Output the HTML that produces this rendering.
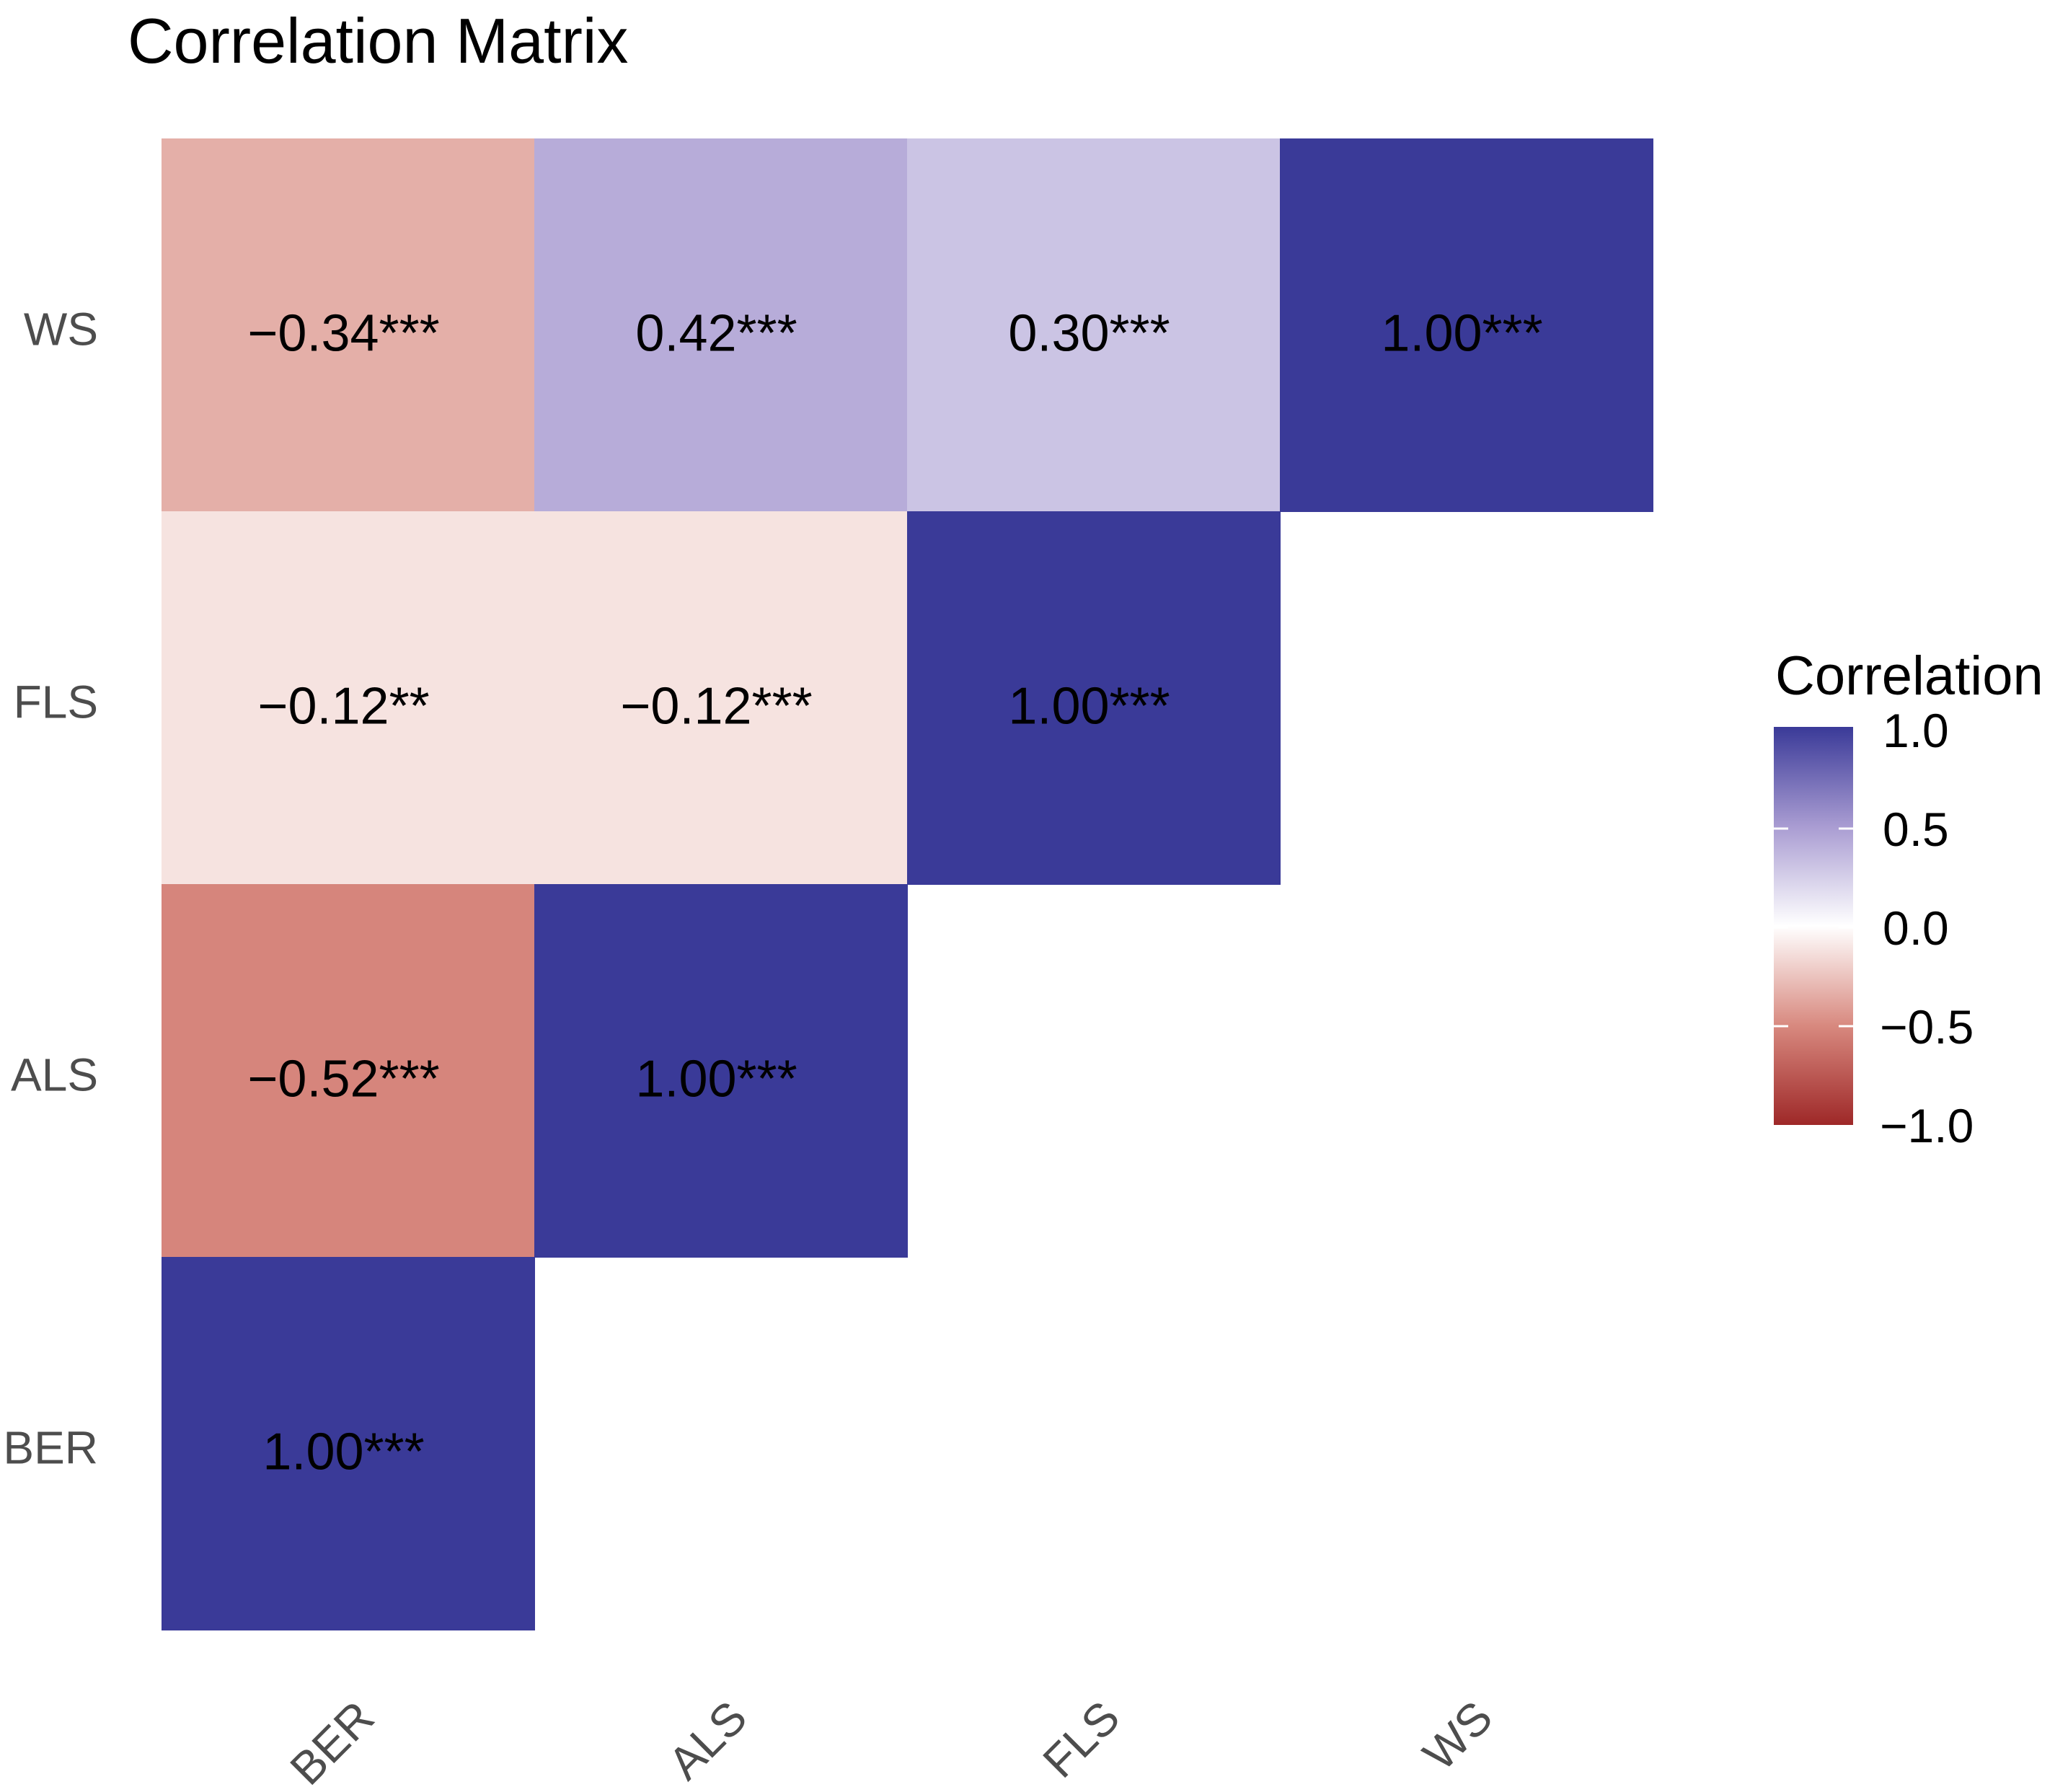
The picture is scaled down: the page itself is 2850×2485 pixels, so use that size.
<!DOCTYPE html>
<html><head><meta charset="utf-8"><style>
html,body{margin:0;padding:0;background:#fff;}
svg{display:block;font-family:"Liberation Sans",Arial,sans-serif;}
</style></head><body>
<svg id="chart" width="2850" height="2485" viewBox="0 0 2850 2485" xmlns="http://www.w3.org/2000/svg">
<defs>
<linearGradient id="grad" x1="0" y1="1" x2="0" y2="0">
<stop offset="0" stop-color="#9E2828"/>
<stop offset="0.25" stop-color="#D8897F"/>
<stop offset="0.5" stop-color="#FFFFFF"/>
<stop offset="0.75" stop-color="#A99CD2"/>
<stop offset="1" stop-color="#3A3A98"/>
</linearGradient>
</defs>
<text x="177" y="87" font-size="88" fill="#000">Correlation Matrix</text>
<g id="cells"></g>
<g id="labels"></g>
<g>
<text x="2462" y="963" font-size="76" fill="#000">Correlation</text>
<rect x="2460" y="1008" width="110" height="552" fill="url(#grad)"/>
<g id="legend-ticks"></g>
</g>
</svg>
<script>
var vars = ["BER","ALS","FLS","WS"];
var rowVars = ["WS","FLS","ALS","BER"];
var colIdx = [0,1,2,3, 0,1,2, 0,1, 0];
var rowIdx = [0,0,0,0, 1,1,1, 2,2, 3];
var values = [-0.34,0.42,0.30,1.00, -0.12,-0.12,1.00, -0.52,1.00, 1.00];
var stars = ["***","***","***","***", "**","***","***", "***","***", "***"];
var legendTicks = [1.0,0.5,0.0,-0.5,-1.0];

var X0=224, Y0=192, CW=517, CH=517;
function xs(i){return X0+i*CW;}
function ys(j){return Y0+j*CH;}
function lerp(a,b,t){return Math.round(a+(b-a)*t);}
var stops=[[-1,[158,40,40]],[-0.5,[216,137,127]],[0,[255,255,255]],[0.5,[169,156,210]],[1,[58,58,152]]];
function color(v){
  for(var k=0;k<stops.length-1;k++){
    if(v<=stops[k+1][0]){
      var t=(v-stops[k][0])/(stops[k+1][0]-stops[k][0]);
      var a=stops[k][1],b=stops[k+1][1];
      return "rgb("+lerp(a[0],b[0],t)+","+lerp(a[1],b[1],t)+","+lerp(a[2],b[2],t)+")";
    }
  }
  return "rgb(58,58,152)";
}
var NS="http://www.w3.org/2000/svg";
var cells=document.getElementById("cells");
for(var i=0;i<values.length;i++){
  var r=document.createElementNS(NS,"rect");
  r.setAttribute("x",xs(colIdx[i]));r.setAttribute("y",ys(rowIdx[i]));
  r.setAttribute("width",CW+1);r.setAttribute("height",CH+1);
  r.setAttribute("fill",color(values[i]));
  
  
  cells.appendChild(r);
  var t=document.createElementNS(NS,"text");
  t.setAttribute("x",xs(colIdx[i])+CW/2-6);t.setAttribute("y",ys(rowIdx[i])+CH/2+36);
  t.setAttribute("text-anchor","middle");t.setAttribute("font-size","72");t.setAttribute("fill","#000");
  t.textContent=(values[i]<0?"\u2212":"")+Math.abs(values[i]).toFixed(2)+stars[i];
  
  
  cells.appendChild(t);
}
var labels=document.getElementById("labels");
for(var j=0;j<rowVars.length;j++){
  var t=document.createElementNS(NS,"text");
  t.setAttribute("x",136);t.setAttribute("y",ys(j)+CH/2+28);
  t.setAttribute("text-anchor","end");t.setAttribute("font-size","64");t.setAttribute("fill","#4D4D4D");
  t.textContent=rowVars[j];
  
  
  labels.appendChild(t);
}
for(var c=0;c<vars.length;c++){
  var px=xs(c)+CW/2+40, py=2386;
  var t=document.createElementNS(NS,"text");
  t.setAttribute("x",px);t.setAttribute("y",py);
  t.setAttribute("text-anchor","end");t.setAttribute("font-size","64");t.setAttribute("fill","#4D4D4D");
  t.setAttribute("transform","rotate(-45 "+px+" "+py+")");
  t.textContent=vars[c];
  
  
  labels.appendChild(t);
}
var lt=document.getElementById("legend-ticks");
var LTop=1012, LBot=1560;
function ly(v){return LBot-(v+1)/2*(LBot-LTop);}
for(var k=0;k<legendTicks.length;k++){
  var v=legendTicks[k], y=ly(v);
  if(v>-1 && v<1){
    var l1=document.createElementNS(NS,"line");
    l1.setAttribute("x1",2460);l1.setAttribute("x2",2480);l1.setAttribute("y1",y);l1.setAttribute("y2",y);
    l1.setAttribute("stroke","#fff");l1.setAttribute("stroke-width","3");
    
    
    lt.appendChild(l1);
    var l2=document.createElementNS(NS,"line");
    l2.setAttribute("x1",2550);l2.setAttribute("x2",2570);l2.setAttribute("y1",y);l2.setAttribute("y2",y);
    l2.setAttribute("stroke","#fff");l2.setAttribute("stroke-width","3");
    
    
    lt.appendChild(l2);
  }
  var t=document.createElementNS(NS,"text");
  t.setAttribute("x",v<0?2607:2611);t.setAttribute("y",y+24);
  t.setAttribute("font-size","66");t.setAttribute("fill","#000");
  t.textContent=(v<0?"\u2212":"")+Math.abs(v).toFixed(1);
  
  
  lt.appendChild(t);
}
</script>
</body></html>
